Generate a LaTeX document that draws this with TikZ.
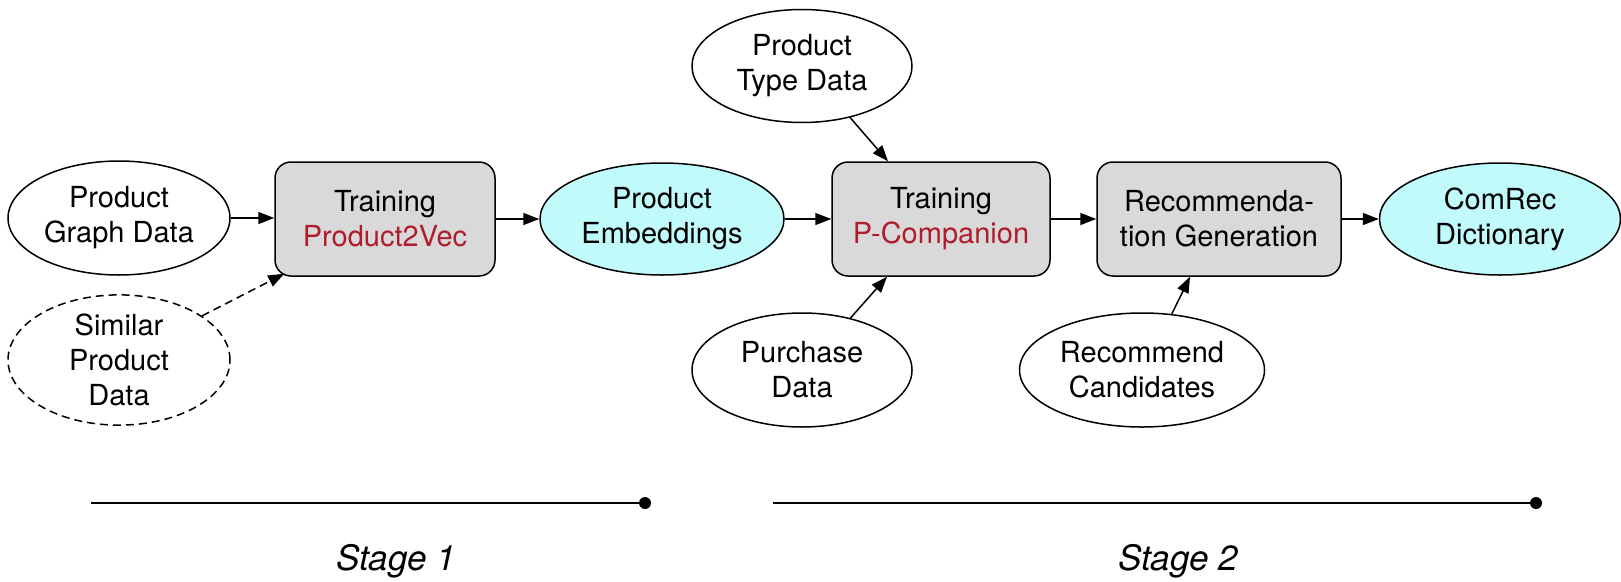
\documentclass[tikz,border=0pt]{standalone}
\usepackage{fontspec}
\setmainfont{TeX Gyre Heros}
\usetikzlibrary{arrows.meta,shapes.geometric}
\definecolor{procgray}{HTML}{D9D9D9}
\definecolor{datacyan}{HTML}{C0FAFA}
\definecolor{modelred}{HTML}{B01C2C}
\tikzset{
  base/.style={draw=black, line width=1.5pt, align=center, inner sep=0pt,
    font=\fontsize{29}{35}\selectfont},
  datanode/.style={base, ellipse, fill=white},
  resultnode/.style={base, ellipse, fill=datacyan},
  procbox/.style={base, rectangle, rounded corners=16pt, fill=procgray,
    minimum height=114pt},
  arr/.style={line width=1.5pt, -{Triangle[length=16pt,width=12pt]}},
  stageline/.style={line width=1.8pt},
  stagelabel/.style={font=\fontsize{35}{40}\selectfont\itshape, anchor=base}
}
\begin{document}
\begin{tikzpicture}[x=1pt, y=-1pt]
\useasboundingbox (0,0) rectangle (1621,581);

% stage 1 nodes
\node[datanode, minimum width=222pt, minimum height=114pt] (pgd) at (119,218) {Product\\Graph Data};
\node[datanode, dashed, dash pattern=on 8pt off 5pt, minimum width=222pt, minimum height=110pt] (spd) at (119,360) {Similar\\Product\\Data};
\node[procbox, minimum width=220pt] (p2v) at (385,219) {Training\\\textcolor{modelred}{Product2Vec}};
\node[resultnode, minimum width=244pt, minimum height=112pt] (pe) at (662,219) {Product\\Embeddings};

% stage 2 nodes
\node[datanode, minimum width=220pt, minimum height=113pt] (ptd) at (802,66) {Product\\Type Data};
\node[procbox, minimum width=218pt] (pc) at (941,219) {Training\\\textcolor{modelred}{P-Companion}};
\node[datanode, minimum width=220pt, minimum height=114pt] (pur) at (802,370) {Purchase\\Data};
\node[procbox, minimum width=244pt] (rg) at (1219,219) {Recommenda-\\tion Generation};
\node[datanode, minimum width=245pt, minimum height=114pt] (rc) at (1142,370) {Recommend\\Candidates};
\node[resultnode, minimum width=241pt, minimum height=112pt] (cd) at (1500,219) {ComRec\\Dictionary};

% main flow
\draw[arr] (pgd.east) -- (pgd.east -| p2v.west);
\draw[arr] (p2v.east) -- (pe.west);
\draw[arr] (pe.east) -- (pc.west);
\draw[arr] (pc.east) -- (rg.west);
\draw[arr] (rg.east) -- (cd.west);

% side inputs
\draw[arr, dashed, dash pattern=on 8pt off 5pt] (spd.28) -- ([xshift=10pt,yshift=3pt]p2v.south west);
\draw[arr] (ptd.313) -- ([xshift=-53pt]pc.north);
\draw[arr] (pur.47) -- ([xshift=-54pt]pc.south);
\draw[arr] (rc.62) -- ([xshift=-29pt]rg.south);

% stage markers
\coordinate (s1a) at (91,503);
\coordinate (s1b) at (645,503);
\coordinate (s2a) at (773,503);
\coordinate (s2b) at (1536,503);
\draw[stageline] (s1a) -- (s1b);
\fill (s1b) circle (6pt);
\draw[stageline] (s2a) -- (s2b);
\fill (s2b) circle (6pt);
\node[stagelabel] (st1) at (396,570) {Stage 1};
\node[stagelabel] (st2) at (1178,570) {Stage 2};
\end{tikzpicture}
\end{document}
